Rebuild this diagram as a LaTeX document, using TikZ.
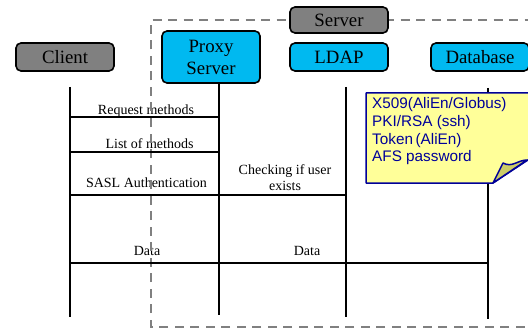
\documentclass[tikz,border=0pt]{standalone}
\usepackage{fontspec}
\setmainfont{Liberation Serif}
\newfontfamily\arialfont{Liberation Sans}
\definecolor{boxgray}{RGB}{128,128,128}
\definecolor{boxcyan}{RGB}{0,185,240}
\definecolor{notefill}{RGB}{255,255,153}
\definecolor{noteline}{RGB}{0,0,153}
\definecolor{foldfill}{RGB}{204,204,102}
\begin{document}
\begin{tikzpicture}[x=1pt,y=-1pt,
  actor/.style={draw=black,line width=1.6pt,rounded corners=5pt,minimum width=98pt,
    minimum height=28pt,inner sep=0pt,font=\fontsize{18.8}{22}\selectfont,align=center},
  graybox/.style={actor,fill=boxgray},
  cyanbox/.style={actor,fill=boxcyan},
  life/.style={line width=1.4pt},
  msg/.style={line width=1.4pt},
  lbl/.style={font=\fontsize{14}{15}\selectfont,inner sep=0pt,anchor=base},
  notetxt/.style={font=\arialfont\fontsize{15.3}{17.7}\selectfont,text=noteline,inner sep=0pt,anchor=base west},
  group/.style={draw=boxgray,line width=1.8pt,dash pattern=on 9pt off 6.5pt}]
\useasboundingbox (0,0) rectangle (528,329);
\clip (0,0) rectangle (528,329);
\fill[white] (0,0) rectangle (528,329);

% lifeline coordinates
\coordinate (cT) at (70,87);   \coordinate (cB) at (70,317);
\coordinate (pT) at (219,83);  \coordinate (pB) at (219,315);
\coordinate (lT) at (346,87);  \coordinate (lB) at (346,317);
\coordinate (dT) at (488,88);  \coordinate (dB) at (488,319);

% message end points
\coordinate (c1) at (70,117);  \coordinate (p1) at (219,117);
\coordinate (c2) at (70,152);  \coordinate (p2) at (219,152);
\coordinate (c3) at (70,195);  \coordinate (p3) at (219,195);  \coordinate (l3) at (346,195);
\coordinate (c4) at (70,263);  \coordinate (p4) at (219,263);  \coordinate (d4) at (488,263);

% labels
\node[lbl] (m1) at (146,114) {Request methods};
\node[lbl] (m2) at (149.5,149) {List of methods};
\node[lbl] (m3) at (146.5,187) {SASL Authentication};
\node[lbl] (m4a) at (285,175) {Checking if user};
\node[lbl] (m4b) at (285,190) {exists};
\node[lbl] (m5) at (147,255.5) {Data};
\node[lbl] (m6) at (307,255.5) {Data};

% server group
\draw[group] (540,327) -- (151,327) -- (151,20) -- (540,20);

% lifelines
\draw[life] (cT) -- (cB);
\draw[life] (pT) -- (pB);
\draw[life] (lT) -- (lB);
\draw[life] (dT) -- (dB);

% messages
\draw[msg] (c1) -- (p1);
\draw[msg] (c2) -- (p2);
\draw[msg] (c3) -- (p3);
\draw[msg] (p3) -- (l3);
\draw[msg] (c4) -- (p4);
\draw[msg] (p4) -- (d4);

% boxes
\node[graybox] (client) at (65,57) {Client};
\node[cyanbox,minimum height=52pt] (proxy) at (211,57) {Proxy\\Server};
\node[graybox,minimum height=26pt] (server) at (339,20) {Server};
\node[cyanbox] (ldap) at (339,57) {LDAP};
\node[cyanbox] (db) at (480,57) {Database};

% note
\draw[noteline,fill=notefill,line width=1.5pt,line join=round]
  (366,93) -- (534,93) -- (534,156) -- (493,183) -- (366,183) -- cycle;
\draw[noteline,fill=foldfill,line width=1.5pt,line join=round]
  (493,183) .. controls (497,175) .. (503,163)
  .. controls (512,168) and (518,160) .. (527,160) -- cycle;
\node[notetxt] (n1) at (372,108.8) {X509(AliEn/Globus)};
\node[notetxt] (n2) at (372,126.4) {PKI/RSA (ssh)};
\node[notetxt] (n3) at (372,144.1) {Token\,(AliEn)};
\node[notetxt] (n4) at (372,161.8) {AFS password};
\end{tikzpicture}
\end{document}
